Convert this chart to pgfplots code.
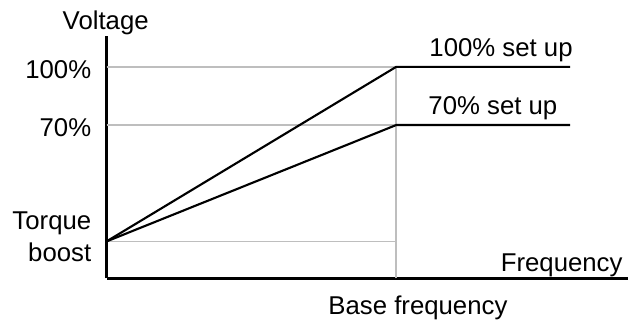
\documentclass[border=0pt]{standalone}
\usepackage{pgfplots}
\pgfplotsset{compat=1.18}
\usepackage{fontspec}
\setmainfont{Liberation Sans}
\definecolor{gridgray}{RGB}{190,190,190}
\begin{document}
\begin{tikzpicture}
\fontsize{10.3}{12}\selectfont
\useasboundingbox (0,0) rectangle (252pt,131.2pt);
\begin{axis}[
  at={(42.6pt,19.8pt)}, anchor=south west,
  scale only axis, width=208.6pt, height=97pt,
  xmin=0, xmax=1.8, ymin=-9.1, ymax=115.9,
  axis lines=left,
  axis line style={-, line width=1.3pt, black},
  xtick=\empty, ytick=\empty,
  clip=false,
]
\addplot[gridgray, line width=0.7pt] coordinates {(0,100) (1,100)};
\addplot[gridgray, line width=0.7pt] coordinates {(0,70) (1,70)};
\addplot[gridgray, line width=0.7pt] coordinates {(0,10) (1,10)};
\addplot[gridgray, line width=0.7pt] coordinates {(1,-9.1) (1,100)};
\addplot[black, line width=0.85pt] coordinates {(0,10) (1,100) (1.6,100)};
\addplot[black, line width=0.85pt] coordinates {(0,10) (1,70) (1.6,70)};
\end{axis}
\begin{scope}[x=0.4pt, y=-0.4pt, shift={(0,131.2pt)}]
\node[anchor=base, inner sep=0pt] at (105.7,29.3) {Voltage};
\node[anchor=base east, inner sep=0pt] at (91.7,79) {100\%};
\node[anchor=base east, inner sep=0pt] at (91.7,136.7) {70\%};
\node[anchor=base east, inner sep=0pt] at (91.7,230) {Torque};
\node[anchor=base east, inner sep=0pt] at (91.7,261.7) {boost};
\node[anchor=base west, inner sep=0pt] at (429,56.7) {100\% set up};
\node[anchor=base west, inner sep=0pt] at (428,115) {70\% set up};
\node[anchor=base east, inner sep=0pt] at (623,271.7) {Frequency};
\node[anchor=base west, inner sep=0pt] at (328,315) {Base frequency};
\end{scope}
\end{tikzpicture}
\end{document}
